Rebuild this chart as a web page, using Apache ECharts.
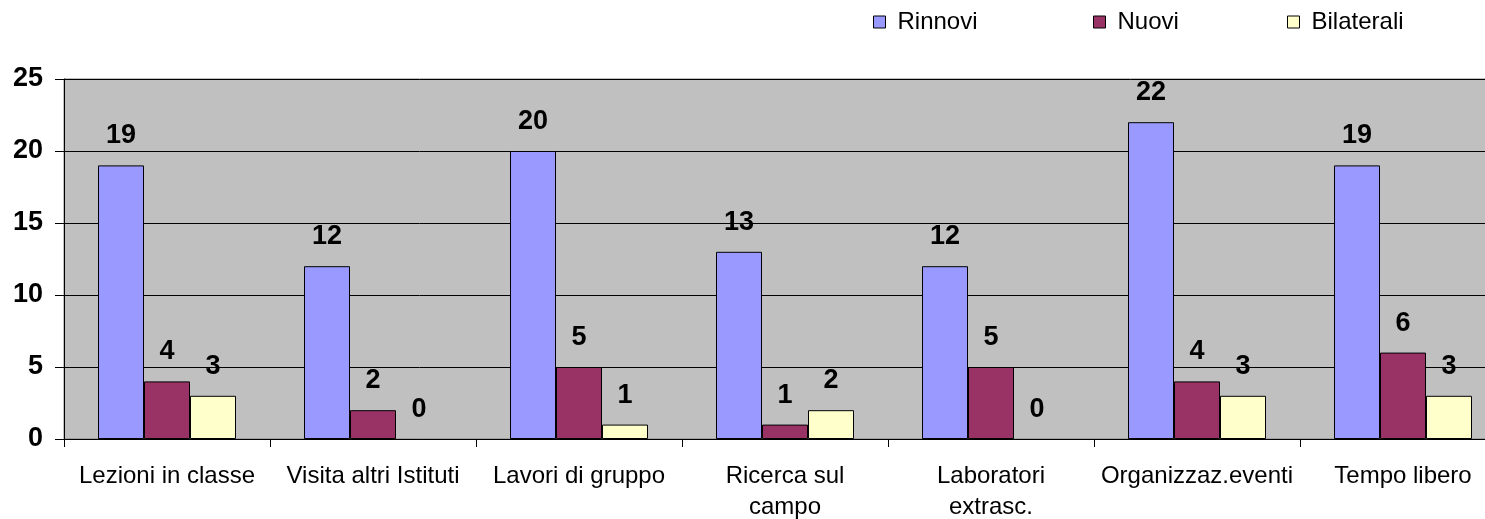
<!DOCTYPE html>
<html>
<head>
<meta charset="utf-8">
<script src="https://cdn.jsdelivr.net/npm/echarts@6/dist/echarts.min.js"></script>
<style>
html,body{margin:0;padding:0;background:#fff;}
#chart{width:1485px;height:519px;}
</style>
</head>
<body>
<div id="chart"></div>
<script>
var categories = ['Lezioni in classe', 'Visita altri Istituti', 'Lavori di gruppo', 'Ricerca sul\ncampo', 'Laboratori\nextrasc.', 'Organizzaz.eventi', 'Tempo libero'];
var rinnovi = [19, 12, 20, 13, 12, 22, 19];
var nuovi = [4, 2, 5, 1, 5, 4, 6];
var bilaterali = [3, 0, 1, 2, 0, 3, 3];
var yTicks = [0, 5, 10, 15, 20, 25];

var FONT = 'Liberation Sans, Arial, sans-serif';

function toData(arr) {
  return arr.map(function (v) {
    return v === 0 ? { value: v, itemStyle: { borderWidth: 0 } } : v;
  });
}

function makeSeries(name, arr, color) {
  return {
    name: name,
    type: 'bar',
    data: toData(arr),
    barWidth: 46,
    barGap: '0%',
    itemStyle: { color: color, borderColor: '#000', borderWidth: 1 },
    label: {
      show: true,
      position: 'top',
      distance: 16,
      color: '#000',
      fontFamily: FONT,
      fontWeight: 'bold',
      fontSize: 27
    },
    emphasis: { disabled: true }
  };
}

function makeLegend(name, left) {
  return {
    data: [name],
    left: left,
    top: 10,
    padding: 0,
    itemWidth: 12,
    itemHeight: 12,
    itemGap: 0,
    selectedMode: false,
    icon: 'rect',
    textStyle: { fontFamily: FONT, fontSize: 24, color: '#000', padding: [0, 0, 0, 7] },
    itemStyle: { borderColor: '#000', borderWidth: 1 }
  };
}

var chart = echarts.init(document.getElementById('chart'), null, { renderer: 'canvas' });
chart.setOption({
  animation: false,
  backgroundColor: '#fff',
  legend: [
    makeLegend('Rinnovi', 873),
    makeLegend('Nuovi', 1093),
    makeLegend('Bilaterali', 1287)
  ],
  grid: {
    left: 64,
    top: 79,
    width: 1442,
    height: 360,
    outerBoundsMode: 'none',
    containLabel: false,
    show: true,
    backgroundColor: '#C0C0C0',
    borderColor: '#808080',
    borderWidth: 1
  },
  xAxis: {
    type: 'category',
    data: categories,
    boundaryGap: true,
    axisLine: { show: true, lineStyle: { color: '#000', width: 1 } },
    axisTick: { show: true, length: 8, lineStyle: { color: '#000' } },
    axisLabel: {
      interval: 0,
      margin: 22,
      color: '#000',
      fontFamily: FONT,
      fontSize: 24,
      lineHeight: 31
    }
  },
  yAxis: {
    type: 'value',
    min: yTicks[0],
    max: yTicks[yTicks.length - 1],
    interval: 5,
    axisLine: { show: true, lineStyle: { color: '#000', width: 1 } },
    axisTick: { show: true, length: 9, lineStyle: { color: '#000' } },
    splitLine: { show: true, lineStyle: { color: '#000', width: 1 } },
    axisLabel: {
      margin: 21,
      color: '#000',
      fontFamily: FONT,
      fontWeight: 'bold',
      fontSize: 27
    }
  },
  series: [
    makeSeries('Rinnovi', rinnovi, '#9999FF'),
    makeSeries('Nuovi', nuovi, '#993366'),
    makeSeries('Bilaterali', bilaterali, '#FFFFCC')
  ]
});
</script>
</body>
</html>
